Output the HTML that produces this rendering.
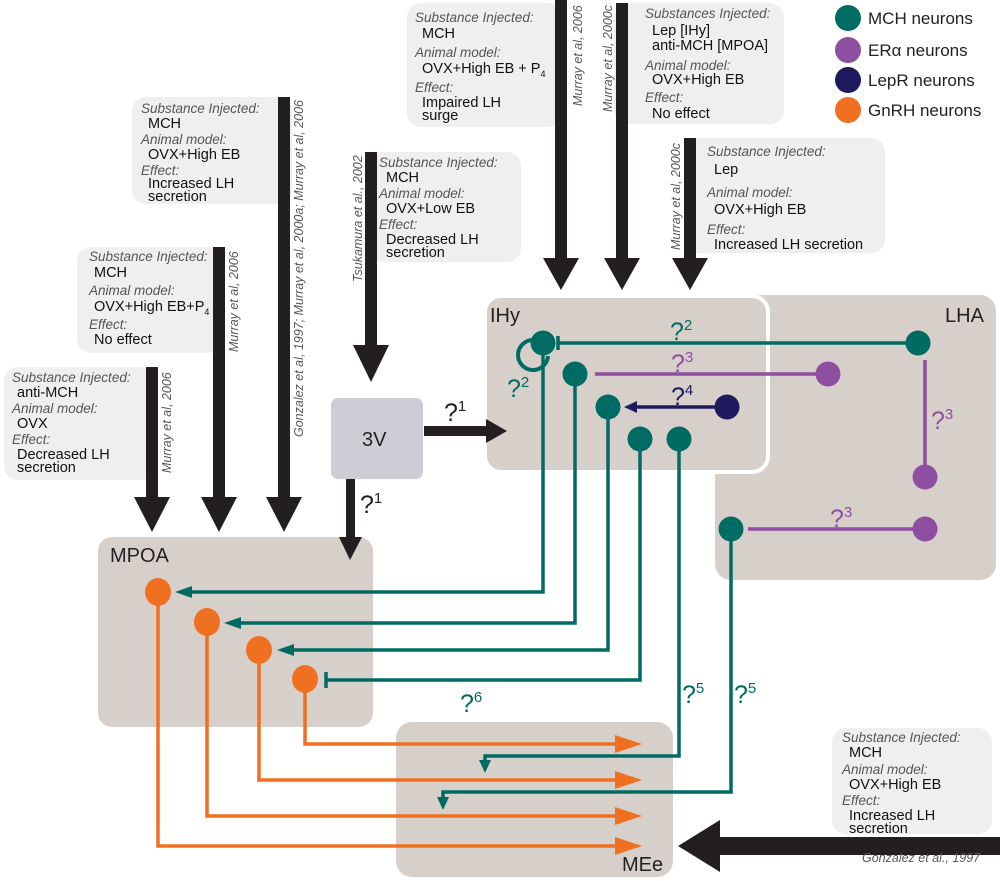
<!DOCTYPE html>
<html><head><meta charset="utf-8"><style>
html,body{margin:0;padding:0;background:#fff}
svg{display:block}
.it{font-family:"Liberation Sans",sans-serif;font-style:italic;font-size:13.5px;fill:#555}
.t{font-family:"Liberation Sans",sans-serif;font-size:14.5px;fill:#111}
.c{font-family:"Liberation Sans",sans-serif;font-style:italic;font-size:12.5px;fill:#555}
.r{font-family:"Liberation Sans",sans-serif;font-size:20px;fill:#222}
.q{font-family:"Liberation Sans",sans-serif;font-size:25px}
.s{font-family:"Liberation Sans",sans-serif;font-size:15px}
.lg{font-family:"Liberation Sans",sans-serif;font-size:17px;fill:#222}
</style></head><body>
<svg width="1000" height="881" viewBox="0 0 1000 881" xmlns="http://www.w3.org/2000/svg">
<rect x="715" y="295" width="281" height="285" rx="16" fill="#d7d0ca"/>
<rect x="485" y="296" width="283" height="176" rx="16" fill="#d7d0ca" stroke="#fff" stroke-width="4"/>
<rect x="98" y="537" width="275" height="190" rx="14" fill="#d7d0ca"/>
<rect x="396" y="722" width="277" height="155" rx="16" fill="#d7d0ca"/>
<text x="490" y="322" class="r">IHy</text>
<text x="945" y="322" class="r">LHA</text>
<text x="110" y="562" class="r">MPOA</text>
<text x="622" y="871" class="r">MEe</text>

<circle cx="848" cy="18" r="13" fill="#006b63"/><text x="868" y="24" class="lg">MCH neurons</text>
<circle cx="848" cy="50" r="13" fill="#8e4fa0"/><text x="868" y="56" class="lg">ERα neurons</text>
<circle cx="848" cy="80" r="13" fill="#1e1a5e"/><text x="868" y="86" class="lg">LepR neurons</text>
<circle cx="848" cy="110" r="13" fill="#f07022"/><text x="868" y="116" class="lg">GnRH neurons</text>

<g fill="#efefef">
<rect x="132" y="97" width="160" height="107" rx="14"/>
<rect x="77" y="247" width="145" height="106" rx="14"/>
<rect x="4" y="367" width="150" height="113" rx="14"/>
<rect x="368" y="152" width="153" height="110" rx="14"/>
<rect x="407" y="3" width="155" height="124" rx="14"/>
<rect x="614" y="3" width="170" height="121" rx="14"/>
<rect x="684" y="138" width="201" height="115" rx="14"/>
<rect x="832" y="728" width="160" height="106" rx="14"/>
</g>

<g>
<text x="141" y="113" class="it">Substance Injected:</text><text x="148" y="128" class="t">MCH</text>
<text x="141" y="144" class="it">Animal model:</text><text x="148" y="159" class="t">OVX+High EB</text>
<text x="141" y="175" class="it">Effect:</text><text x="148" y="188" class="t">Increased LH</text><text x="148" y="201" class="t">secretion</text>

<text x="89" y="261" class="it">Substance Injected:</text><text x="94" y="277" class="t">MCH</text>
<text x="89" y="295" class="it">Animal model:</text><text x="94" y="311" class="t">OVX+High EB+P<tspan font-size="9" dy="4">4</tspan></text>
<text x="89" y="329" class="it">Effect:</text><text x="94" y="344" class="t">No effect</text>

<text x="12" y="382" class="it">Substance Injected:</text><text x="17" y="397" class="t">anti-MCH</text>
<text x="12" y="413" class="it">Animal model:</text><text x="17" y="428" class="t">OVX</text>
<text x="12" y="444" class="it">Effect:</text><text x="17" y="459" class="t">Decreased LH</text><text x="17" y="472" class="t">secretion</text>

<text x="379" y="167" class="it">Substance Injected:</text><text x="386" y="182" class="t">MCH</text>
<text x="379" y="198" class="it">Animal model:</text><text x="386" y="213" class="t">OVX+Low EB</text>
<text x="379" y="229" class="it">Effect:</text><text x="386" y="244" class="t">Decreased LH</text><text x="386" y="257" class="t">secretion</text>

<text x="415" y="22" class="it">Substance Injected:</text><text x="422" y="38" class="t">MCH</text>
<text x="415" y="57" class="it">Animal model:</text><text x="422" y="73" class="t">OVX+High EB + P<tspan font-size="9" dy="4">4</tspan></text>
<text x="415" y="92" class="it">Effect:</text><text x="422" y="107" class="t">Impaired LH</text><text x="422" y="120" class="t">surge</text>

<text x="645" y="18" class="it">Substances Injected:</text><text x="652" y="35" class="t">Lep [IHy]</text><text x="652" y="50" class="t">anti-MCH [MPOA]</text>
<text x="645" y="70" class="it">Animal model:</text><text x="652" y="84" class="t">OVX+High EB</text>
<text x="645" y="102" class="it">Effect:</text><text x="652" y="118" class="t">No effect</text>

<text x="707" y="156" class="it">Substance Injected:</text><text x="714" y="174" class="t">Lep</text>
<text x="707" y="197" class="it">Animal model:</text><text x="714" y="214" class="t">OVX+High EB</text>
<text x="707" y="234" class="it">Effect:</text><text x="714" y="249" class="t">Increased LH secretion</text>

<text x="842" y="742" class="it">Substance Injected:</text><text x="849" y="757" class="t">MCH</text>
<text x="842" y="774" class="it">Animal model:</text><text x="849" y="789" class="t">OVX+High EB</text>
<text x="842" y="805" class="it">Effect:</text><text x="849" y="820" class="t">Increased LH</text><text x="849" y="833" class="t">secretion</text>
</g>

<g fill="#231f20">
<rect x="278" y="97" width="12" height="402"/><polygon points="266,497 302,497 284,532"/>
<rect x="213" y="247" width="12" height="252"/><polygon points="201,497 237,497 219,532"/>
<rect x="146" y="367" width="12" height="132"/><polygon points="134,497 170,497 152,532"/>
<rect x="365" y="152" width="12" height="195"/><polygon points="353,345 389,345 371,382"/>
<rect x="555" y="0" width="12" height="260"/><polygon points="543,258 579,258 561,290"/>
<rect x="616" y="3" width="12" height="257"/><polygon points="604,258 640,258 622,290"/>
<rect x="684" y="138" width="12" height="122"/><polygon points="672,258 708,258 690,290"/>
<rect x="718" y="837" width="282" height="18"/><polygon points="720,820 720,872 678,846"/>
<rect x="424" y="426" width="64" height="10"/><polygon points="486,419 486,443 507,431"/>
<rect x="346" y="479" width="9" height="60"/><polygon points="339,537 362,537 350,560"/>
</g>
<rect x="331" y="398" width="92" height="81" rx="7" fill="#cdcdd5"/>
<text x="362" y="446" class="r">3V</text>
<text x="444" y="421" class="q" fill="#231f20">?<tspan class="s" dy="-10">1</tspan></text>
<text x="360" y="513" class="q" fill="#231f20">?<tspan class="s" dy="-10">1</tspan></text>

<g class="c">
<text transform="translate(303,437) rotate(-90)">Gonzalez et al, 1997; Murray et al, 2000a; Murray et al, 2006</text>
<text transform="translate(238,352) rotate(-90)">Murray et al, 2006</text>
<text transform="translate(171,473) rotate(-90)">Murray et al, 2006</text>
<text transform="translate(362,282) rotate(-90)">Tsukamura et al., 2002</text>
<text transform="translate(582,106) rotate(-90)">Murray et al, 2006</text>
<text transform="translate(612,112) rotate(-90)">Murray et al, 2000c</text>
<text transform="translate(680,250) rotate(-90)">Murray et al, 2000c</text>
<text x="862" y="862">Gonzalez et al., 1997</text>
</g>

<g fill="none" stroke-width="3.5">
<path d="M918,343 H558 M558,336 V350" stroke="#006b63"/>
<path d="M595,374 H827" stroke="#8e4fa0"/>
<path d="M715,407 H632" stroke="#1e1a5e"/>
<path d="M925,360 V477" stroke="#8e4fa0"/>
<path d="M748,529 H925" stroke="#8e4fa0"/>
<path d="M533,340 A15,15 0 1 0 548,356" stroke="#006b63" stroke-width="4"/>
<path d="M543,343 V592 H185" stroke="#006b63"/>
<path d="M575,374 V623 H234" stroke="#006b63"/>
<path d="M608,407 V650 H287" stroke="#006b63"/>
<path d="M640,439 V680 H326 M326,672 V688" stroke="#006b63"/>
<path d="M679,439 V756 H485 V765" stroke="#006b63"/>
<path d="M731,529 V792 H443 V800" stroke="#006b63"/>
<path d="M158,592 V846 H620" stroke="#f07022"/>
<path d="M207,622 V816 H620" stroke="#f07022"/>
<path d="M259,650 V780 H620" stroke="#f07022"/>
<path d="M305,679 V744 H620" stroke="#f07022"/>
</g>
<g fill="#1e1a5e"><polygon points="624,407 637,401 637,413"/></g>
<g fill="#006b63">
<polygon points="175,592 192,586 192,598"/>
<polygon points="224,623 241,617 241,629"/>
<polygon points="277,650 294,644 294,656"/>
<polygon points="485,773 479,760 491,760"/>
<polygon points="443,810 437,797 449,797"/>
</g>
<g fill="#f07022">
<polygon points="642,846 615,837 615,855"/>
<polygon points="642,816 615,807 615,825"/>
<polygon points="642,780 615,771 615,789"/>
<polygon points="642,744 615,735 615,753"/>
</g>

<g fill="#006b63">
<circle cx="543" cy="343" r="12.5"/><circle cx="575" cy="374" r="12.5"/><circle cx="608" cy="407" r="12.5"/>
<circle cx="640" cy="439" r="12.5"/><circle cx="679" cy="439" r="12.5"/><circle cx="918" cy="343" r="12.5"/>
<circle cx="731" cy="529" r="12.5"/>
</g>
<circle cx="727" cy="407" r="12.5" fill="#1e1a5e"/>
<g fill="#8e4fa0"><circle cx="828" cy="374" r="12.5"/><circle cx="925" cy="477" r="12.5"/><circle cx="925" cy="529" r="12.5"/></g>
<g fill="#f07022">
<ellipse cx="158" cy="592" rx="13" ry="14"/><ellipse cx="207" cy="622" rx="13" ry="14"/>
<ellipse cx="259" cy="650" rx="13" ry="14"/><ellipse cx="305" cy="679" rx="13" ry="14"/>
</g>

<text x="670" y="340" class="q" fill="#006b63">?<tspan class="s" dy="-10">2</tspan></text>
<text x="507" y="397" class="q" fill="#006b63">?<tspan class="s" dy="-10">2</tspan></text>
<text x="671" y="372" class="q" fill="#8e4fa0">?<tspan class="s" dy="-10">3</tspan></text>
<text x="671" y="405" class="q" fill="#1e1a5e">?<tspan class="s" dy="-10">4</tspan></text>
<text x="931" y="429" class="q" fill="#8e4fa0">?<tspan class="s" dy="-10">3</tspan></text>
<text x="830" y="527" class="q" fill="#8e4fa0">?<tspan class="s" dy="-10">3</tspan></text>
<text x="682" y="703" class="q" fill="#006b63">?<tspan class="s" dy="-10">5</tspan></text>
<text x="734" y="703" class="q" fill="#006b63">?<tspan class="s" dy="-10">5</tspan></text>
<text x="460" y="712" class="q" fill="#006b63">?<tspan class="s" dy="-10">6</tspan></text>
</svg>
</body></html>
